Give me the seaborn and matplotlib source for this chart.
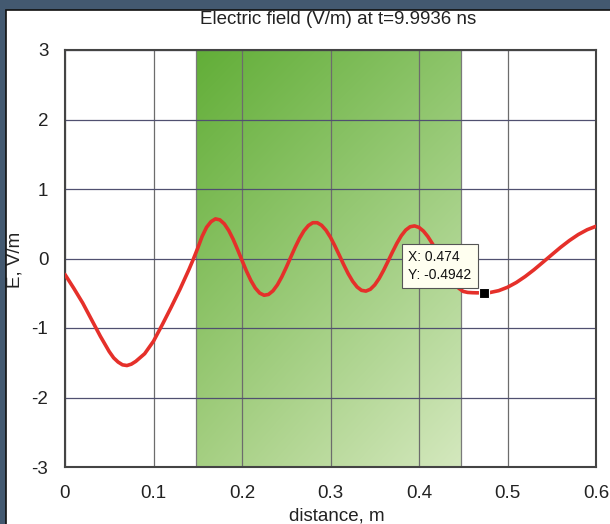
import numpy as np
import matplotlib
matplotlib.use("Agg")
import matplotlib.pyplot as plt
from matplotlib.patches import Rectangle
import seaborn as sns

# Sampled field profile along the line (distance in m, field in V/m)
distance = [0.00, 0.01, 0.02, 0.03, 0.04, 0.05, 0.055, 0.06, 0.065, 0.07,
            0.075, 0.08, 0.09, 0.10, 0.11, 0.12, 0.13, 0.135, 0.14, 0.145,
            0.15, 0.155, 0.16, 0.165, 0.17, 0.175, 0.18, 0.185, 0.19, 0.195,
            0.20, 0.205, 0.21, 0.215, 0.22, 0.225, 0.23, 0.235, 0.24, 0.245,
            0.25, 0.255, 0.26, 0.265, 0.27, 0.275, 0.28, 0.285, 0.29, 0.295,
            0.30, 0.305, 0.31, 0.315, 0.32, 0.325, 0.33, 0.335, 0.34, 0.345,
            0.35, 0.355, 0.36, 0.365, 0.37, 0.375, 0.38, 0.385, 0.39, 0.395,
            0.40, 0.405, 0.41, 0.415, 0.42, 0.425, 0.43, 0.435, 0.44, 0.445,
            0.45, 0.455, 0.46, 0.465, 0.47, 0.474, 0.48, 0.49, 0.50, 0.51,
            0.52, 0.53, 0.54, 0.55, 0.56, 0.57, 0.58, 0.59, 0.60]
field = [-0.23, -0.43, -0.64, -0.88, -1.12, -1.34, -1.43, -1.49, -1.53, -1.54,
         -1.52, -1.48, -1.37, -1.19, -0.95, -0.70, -0.44, -0.30, -0.16, -0.01,
         0.15, 0.32, 0.45, 0.53, 0.57, 0.556, 0.499, 0.403, 0.277, 0.129,
         -0.027, -0.18, -0.316, -0.425, -0.498, -0.529, -0.517, -0.465, -0.379, -0.263,
         -0.128, 0.017, 0.16, 0.29, 0.398, 0.474, 0.515, 0.515, 0.477, 0.405,
         0.304, 0.18, 0.046, -0.091, -0.219, -0.327, -0.409, -0.458, -0.469, -0.443,
         -0.38, -0.287, -0.17, -0.04, 0.093, 0.219, 0.328, 0.409, 0.457, 0.469,
         0.447, 0.395, 0.316, 0.216, 0.10, -0.022, -0.144, -0.257, -0.355, -0.429,
         -0.474, -0.488, -0.492, -0.494, -0.494, -0.4942, -0.49, -0.463, -0.414, -0.345,
         -0.259, -0.161, -0.054, 0.054, 0.161, 0.259, 0.345, 0.414, 0.464]

# Dielectric slab extent (m)
slab = [0.148, 0.447]

# Data cursor
tip_x = 0.474
tip_y = -0.4942

x_ticks = [0, 0.1, 0.2, 0.3, 0.4, 0.5, 0.6]
x_tick_labels = ["0", "0.1", "0.2", "0.3", "0.4", "0.5", "0.6"]
y_ticks = [-3, -2, -1, 0, 1, 2, 3]
y_tick_labels = ["-3", "-2", "-1", "0", "1", "2", "3"]

sns.set_style("white")
plt.rcParams["font.family"] = ["Liberation Sans", "DejaVu Sans"]
plt.rcParams["axes.unicode_minus"] = False

W, H = 610, 524
fig = plt.figure(figsize=(W / 100, H / 100), dpi=100, facecolor="#435970")

# White panel with a dark frame on its top and left sides
panel = Rectangle((6 / W, -0.1), 1.2, 1.1 - 10 / H, transform=fig.transFigure,
                  facecolor="white", edgecolor="#111111", linewidth=1.2, zorder=0)
fig.add_artist(panel)

ax = fig.add_axes([65 / W, (H - 467) / H, 531 / W, 417 / H])
ax.set_facecolor("white")

# Green slab with a diagonal gradient
tl = np.array([98, 174, 56]) / 255
tr = np.array([140, 196, 105]) / 255
bl = np.array([165, 207, 130]) / 255
br = np.array([212, 232, 190]) / 255
u = np.linspace(0, 1, 120)[None, :, None]
v = np.linspace(0, 1, 200)[:, None, None]
grad = (1 - v) * ((1 - u) * tl + u * tr) + v * ((1 - u) * bl + u * br)
ax.imshow(grad, extent=[slab[0], slab[1], -3, 3], aspect="auto",
          origin="upper", zorder=0.1, interpolation="bilinear")
for xe in slab:
    ax.axvline(xe, color="#7a7a7a", linewidth=0.9, zorder=0.2)

sns.lineplot(x=distance, y=field, ax=ax, color="#e5302a", linewidth=2.6,
             zorder=3, estimator=None, sort=False)

ax.plot([tip_x], [tip_y], marker="s", markersize=7, color="black",
        markeredgecolor="white", markeredgewidth=0.8, zorder=5, linestyle="none")
ax.annotate(f"X: {tip_x}\nY: {tip_y}", xy=(tip_x, tip_y), xytext=(-9.5, 8),
            textcoords="offset points", ha="right", va="bottom",
            multialignment="left", fontsize=10, linespacing=1.35,
            color="#111111", zorder=6,
            bbox=dict(boxstyle="square,pad=0.45", facecolor="#fffff0",
                      edgecolor="#555555", linewidth=0.8))

ax.set_xlim(0, 0.6)
ax.set_ylim(-3, 3)
ax.set_xticks(x_ticks)
ax.set_xticklabels(x_tick_labels)
ax.set_yticks(y_ticks)
ax.set_yticklabels(y_tick_labels)
ax.tick_params(axis="both", length=0, labelsize=13.5, colors="#222222")
ax.tick_params(axis="x", pad=13)
ax.tick_params(axis="y", pad=12)

ax.set_axisbelow(True)
ax.xaxis.grid(True, color="#6c6c6c", linewidth=0.9)
ax.yaxis.grid(True, color="#505070", linewidth=0.9)
for s in ax.spines.values():
    s.set_color("#444444")
    s.set_linewidth(1.5)
    s.set_visible(True)

fig.text(338 / W, 1 - 19 / H, "Electric field (V/m) at t=9.9936 ns",
         ha="center", va="center", fontsize=13.5, color="#222222")
fig.text(337 / W, 1 - 516 / H, "distance, m", ha="center", va="center",
         fontsize=13.5, color="#222222")
fig.text(15 / W, 1 - 260 / H, "E, V/m", ha="center", va="center",
         rotation=90, fontsize=13.5, color="#222222")

fig.savefig("out.png", dpi=100, facecolor=fig.get_facecolor())
